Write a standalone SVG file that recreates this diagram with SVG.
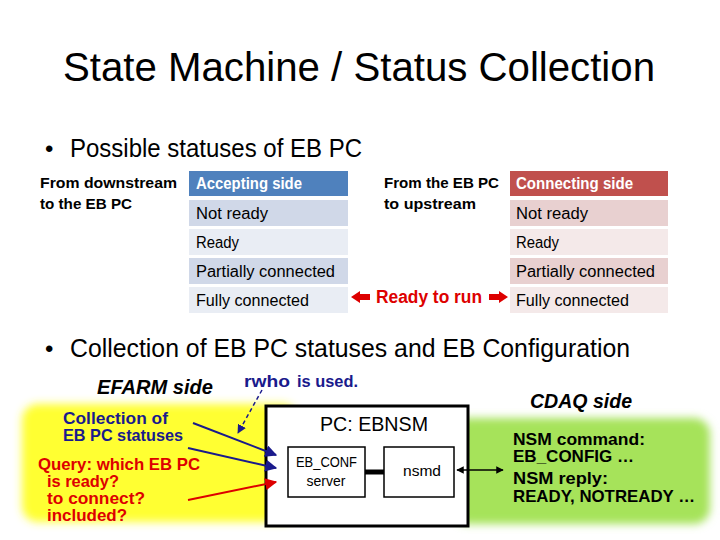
<svg xmlns="http://www.w3.org/2000/svg" width="720" height="540" viewBox="0 0 720 540">
<defs>
<style>
text{font-family:"Liberation Sans",sans-serif}
.b{font-weight:bold}
.c{font-size:16px;fill:#000}
.h{font-size:16px;fill:#fff;font-weight:bold}
</style>
<marker id="ab" viewBox="0 0 10 10" refX="9" refY="5" markerWidth="6" markerHeight="6" orient="auto"><path d="M0,0L10,5L0,10z" fill="#1a1a8c"/></marker>
<marker id="ar" viewBox="0 0 10 10" refX="9" refY="5" markerWidth="6" markerHeight="6" orient="auto"><path d="M0,0L10,5L0,10z" fill="#d00"/></marker>
<marker id="ak" viewBox="0 0 10 10" refX="9" refY="5" markerWidth="5" markerHeight="5" orient="auto-start-reverse"><path d="M0,0L10,5L0,10z" fill="#000"/></marker>
<filter id="glow" x="-10%" y="-10%" width="120%" height="120%"><feGaussianBlur stdDeviation="4"/></filter>
</defs>
<rect width="720" height="540" fill="#fff"/>
<text x="359" y="81" font-size="40" text-anchor="middle" textLength="592" lengthAdjust="spacingAndGlyphs">State Machine / Status Collection</text>
<text x="45" y="157" font-size="24">•</text>
<text x="70" y="157" font-size="25" textLength="292" lengthAdjust="spacingAndGlyphs">Possible statuses of EB PC</text>
<g id="table-left">
<text x="40" y="188" class="b" font-size="15" textLength="137" lengthAdjust="spacingAndGlyphs">From downstream</text>
<text x="40" y="209" class="b" font-size="15" textLength="92" lengthAdjust="spacingAndGlyphs">to the EB PC</text>
<rect x="189" y="171" width="159" height="25" fill="#4f81bd"/><text x="196" y="189" class="h" textLength="106" lengthAdjust="spacingAndGlyphs">Accepting side</text>
<rect x="189" y="200" width="159" height="26" fill="#d0d8e8"/><text x="196" y="219" class="c" textLength="72" lengthAdjust="spacingAndGlyphs">Not ready</text>
<rect x="189" y="229" width="159" height="26" fill="#e9edf4"/><text x="196" y="248" class="c" textLength="43" lengthAdjust="spacingAndGlyphs">Ready</text>
<rect x="189" y="258" width="159" height="26" fill="#d0d8e8"/><text x="196" y="277" class="c" textLength="139" lengthAdjust="spacingAndGlyphs">Partially connected</text>
<rect x="189" y="287" width="159" height="26" fill="#e9edf4"/><text x="196" y="306" class="c" textLength="113" lengthAdjust="spacingAndGlyphs">Fully connected</text>
</g>
<g id="table-right">
<text x="384" y="188" class="b" font-size="15" textLength="115" lengthAdjust="spacingAndGlyphs">From the EB PC</text>
<text x="384" y="209" class="b" font-size="15" textLength="92" lengthAdjust="spacingAndGlyphs">to upstream</text>
<rect x="510" y="171" width="158" height="25" fill="#c0504d"/><text x="516" y="189" class="h" textLength="117" lengthAdjust="spacingAndGlyphs">Connecting side</text>
<rect x="510" y="200" width="158" height="26" fill="#e8d0d0"/><text x="516" y="219" class="c" textLength="72" lengthAdjust="spacingAndGlyphs">Not ready</text>
<rect x="510" y="229" width="158" height="26" fill="#f4e9e9"/><text x="516" y="248" class="c" textLength="43" lengthAdjust="spacingAndGlyphs">Ready</text>
<rect x="510" y="258" width="158" height="26" fill="#e8d0d0"/><text x="516" y="277" class="c" textLength="139" lengthAdjust="spacingAndGlyphs">Partially connected</text>
<rect x="510" y="287" width="158" height="26" fill="#f4e9e9"/><text x="516" y="306" class="c" textLength="113" lengthAdjust="spacingAndGlyphs">Fully connected</text>
</g>
<g id="ready">
<text x="376" y="303" font-size="18" fill="#d00" font-weight="bold" textLength="106" lengthAdjust="spacingAndGlyphs">Ready to run</text>
<path d="M351,297l9,-6v3h10v6h-10v3z" fill="#d00"/>
<path d="M508,297l-9,-6v3h-10v6h10v3z" fill="#d00"/>
</g>
<text x="45" y="357" font-size="24">•</text>
<text x="70" y="357" font-size="25" textLength="560" lengthAdjust="spacingAndGlyphs">Collection of EB PC statuses and EB Configuration</text>
<rect x="22" y="404" width="276" height="118" rx="16" fill="#ffff33" filter="url(#glow)"/>
<rect x="452" y="418" width="258" height="106" rx="16" fill="#a6e35a" filter="url(#glow)"/>
<text x="97" y="394" font-size="21" font-style="italic" font-weight="bold" textLength="116" lengthAdjust="spacingAndGlyphs">EFARM side</text>
<text x="530" y="408" font-size="21" font-style="italic" font-weight="bold" textLength="102" lengthAdjust="spacingAndGlyphs">CDAQ side</text>
<text x="244" y="387" font-family="Liberation Mono,monospace" font-size="16" fill="#1a1a8c" font-weight="bold" textLength="46" lengthAdjust="spacingAndGlyphs">rwho</text><text x="297" y="387" font-size="17" fill="#1a1a8c" font-weight="bold" textLength="61" lengthAdjust="spacingAndGlyphs">is used.</text>
<g id="pc">
<rect x="266" y="406" width="202" height="120" fill="#fff" stroke="#000" stroke-width="3"/>
<text x="320" y="431" font-size="21" textLength="108" lengthAdjust="spacingAndGlyphs">PC: EBNSM</text>
</g>
<g id="ebconf"><rect x="288" y="447" width="77" height="50" fill="#fff" stroke="#000" stroke-width="1.5"/>
<text x="296" y="467" font-size="14" textLength="61" lengthAdjust="spacingAndGlyphs">EB_CONF</text><text x="326" y="486" font-size="14" text-anchor="middle">server</text></g>
<g id="nsmd"><rect x="384" y="447" width="70" height="50" fill="#fff" stroke="#000" stroke-width="1.5"/>
<text x="403" y="476" font-size="15" textLength="38" lengthAdjust="spacingAndGlyphs">nsmd</text></g>
<g id="left-texts" font-size="17" font-weight="bold">
<text x="63" y="424" fill="#1a1a8c" textLength="105" lengthAdjust="spacingAndGlyphs">Collection of</text>
<text x="63" y="441" fill="#1a1a8c" textLength="120" lengthAdjust="spacingAndGlyphs">EB PC statuses</text>
<text x="38" y="470" fill="#d00" textLength="162" lengthAdjust="spacingAndGlyphs">Query: which EB PC</text>
<text x="47" y="487" fill="#d00" textLength="72" lengthAdjust="spacingAndGlyphs">is ready?</text>
<text x="47" y="504" fill="#d00" textLength="98" lengthAdjust="spacingAndGlyphs">to connect?</text>
<text x="47" y="521" fill="#d00" textLength="80" lengthAdjust="spacingAndGlyphs">included?</text>
</g>
<g id="right-texts" font-size="17" font-weight="bold">
<text x="513" y="445" textLength="132" lengthAdjust="spacingAndGlyphs">NSM command:</text>
<text x="513" y="462" textLength="121" lengthAdjust="spacingAndGlyphs">EB_CONFIG …</text>
<text x="513" y="484" textLength="95" lengthAdjust="spacingAndGlyphs">NSM reply:</text>
<text x="513" y="502" textLength="182" lengthAdjust="spacingAndGlyphs">READY,  NOTREADY …</text>
</g>
<g id="connectors">
<line x1="365" y1="472" x2="384" y2="472" stroke="#000" stroke-width="5"/>
<line x1="457" y1="470" x2="503" y2="470" stroke="#000" stroke-width="1.5" marker-start="url(#ak)" marker-end="url(#ak)"/>
<line x1="193" y1="423" x2="276" y2="455" stroke="#1a1a8c" stroke-width="2" marker-end="url(#ab)"/>
<line x1="188" y1="448" x2="276" y2="468" stroke="#1a1a8c" stroke-width="2" marker-end="url(#ab)"/>
<line x1="188" y1="500" x2="276" y2="482" stroke="#d00" stroke-width="2" marker-end="url(#ar)"/>
<line x1="262" y1="390" x2="238" y2="433" stroke="#1a1a8c" stroke-width="1.5" stroke-dasharray="4,3" marker-end="url(#ab)"/>
</g>
</svg>
